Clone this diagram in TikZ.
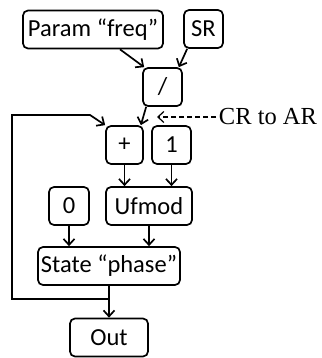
\documentclass[tikz,border=0pt]{standalone}
\usepackage{fontspec}
\setmainfont{Carlito}
\newfontfamily\notefont{Liberation Serif}
\usetikzlibrary{arrows.meta,calc}
\tikzset{every picture/.style={line width=1.7pt}}
\tikzset{
  block/.style={draw, rounded corners=5pt, inner sep=0pt,
                minimum width=#1, minimum height=38pt,
                font=\fontsize{24.5}{28}\selectfont},
  block/.default={39pt}, % most boxes are this wide
  arr/.style={-{Straight Barb[length=6pt,width=11pt]}},
}

\begin{document}
\begin{tikzpicture}[x=1pt,y=-1pt]
  \useasboundingbox (0,0) rectangle (321,358);
  % blocks, top to bottom
  \node[block=140pt] (freq) at (93,29.5) {Param “freq”};
  \node[block] (sr) at (203.5,29) {SR};
  \node[block] (div) at (162.5,87) {/};
  \node[block=37pt] (plus) at (124.5,145) {+};
  \node[block] (one) at (171.5,145) {1};
  \node[block=40pt] (zero) at (69,206) {0};
  \node[block=86pt] (ufmod) at (149,206) {Ufmod};
  \node[block=142pt] (state) at (109,266) {State “phase”};
  \node[block=78pt] (out) at (109,337.5) {Out};
  % rate note
  \node[font=\notefont\fontsize{24.5}{28}\selectfont, inner sep=2pt] (cr) at (268,117) {CR to AR};
  \coordinate (crtip) at (157,117);
  % feedback corners
  \coordinate (loopB) at (12,299);
  \coordinate (loopT) at (12,115);
  \coordinate (bend) at (90,115);
  % connect blocks
  \draw[arr] ([xshift=27pt]freq.south) -- ([xshift=2pt]div.north west);
  \draw[arr] ([xshift=4pt]sr.south west) -- ([xshift=-4pt]div.north east);
  \draw[arr] ([xshift=4pt]div.south west) -- ([xshift=-3pt]plus.north east);
  \draw[arr, dash pattern=on 5pt off 3pt, line width=1.2pt] (cr.west) -- (crtip);
  \draw[arr] (plus) -- (plus |- ufmod.north);
  \draw[arr] (one) -- (one |- ufmod.north);
  \draw[arr] (zero) -- (zero |- state.north);
  \draw[arr] (ufmod) -- (ufmod |- state.north);
  \draw[arr] (state) -- (out);
  \draw[arr] (state.south) |- (loopB) -- (loopT) -- (bend) -- (plus.north west);
\end{tikzpicture}
\end{document}
